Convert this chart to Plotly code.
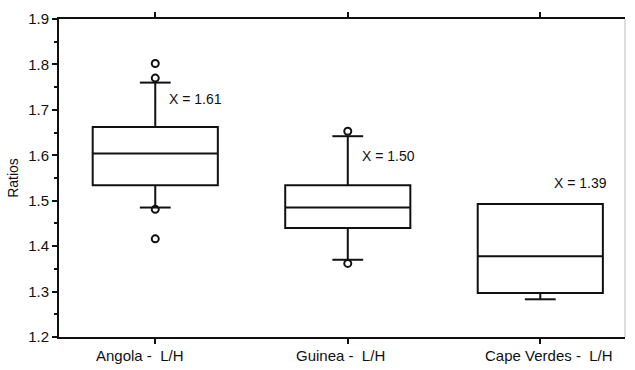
import plotly.graph_objects as go

categories = ["Angola -\u00a0\u00a0L/H", "Guinea -\u00a0\u00a0L/H", "Cape Verdes -\u00a0\u00a0L/H"]
q1 = [1.534, 1.440, 1.297]
median = [1.604, 1.485, 1.378]
q3 = [1.662, 1.534, 1.493]
lower_whisker = [1.485, 1.370, 1.283]
upper_whisker = [1.760, 1.642, 1.493]
outliers = [[1.802, 1.770, 1.481, 1.416], [1.653, 1.362], []]
mean_labels = ["X = 1.61", "X = 1.50", "X = 1.39"]
mean_label_y = [1.723, 1.599, 1.539]
label_shift = [-15, -7, 9]

pos = list(range(len(categories)))
cap_half = 0.08
black = "#111111"

fig = go.Figure()
fig.add_trace(go.Box(
    x=pos, q1=q1, median=median, q3=q3,
    lowerfence=lower_whisker, upperfence=upper_whisker,
    width=0.65, boxpoints=False,
    fillcolor="white", line=dict(color=black, width=2),
    whiskerwidth=0, showlegend=False, hoverinfo="skip",
))

cx, cy = [], []
for i in pos:
    for v in (lower_whisker[i], upper_whisker[i]):
        if i == 2 and v == q3[i]:
            continue
        cx += [i - cap_half, i + cap_half, None]
        cy += [v, v, None]
fig.add_trace(go.Scatter(x=cx, y=cy, mode="lines", line=dict(color=black, width=2),
                         showlegend=False, hoverinfo="skip"))

ox, oy = [], []
for i in pos:
    for v in outliers[i]:
        ox.append(i)
        oy.append(v)
fig.add_trace(go.Scatter(x=ox, y=oy, mode="markers",
                         marker=dict(symbol="circle-open", size=7, color=black, line=dict(width=2)),
                         showlegend=False, hoverinfo="skip"))

for i in pos:
    fig.add_annotation(x=i + 0.062, y=mean_label_y[i], text=mean_labels[i], showarrow=False,
                       xanchor="left", yanchor="middle", font=dict(size=14, color=black))
    fig.add_annotation(x=i, y=0, xref="x", yref="paper", text=categories[i], showarrow=False,
                       xanchor="center", yanchor="top", yshift=-8, xshift=label_shift[i],
                       font=dict(size=15, color=black))

fig.add_shape(type="line", xref="paper", yref="paper", x0=1, x1=1, y0=0, y1=1,
              line=dict(color="#bbbbbb", width=1))

fig.update_xaxes(range=[-0.5, 2.44], tickvals=pos, ticktext=["", "", ""],
                 showticklabels=False, ticks="outside", ticklen=5, tickwidth=2, tickcolor=black,
                 showline=True, linecolor=black, linewidth=2, mirror="allticks",
                 showgrid=False, zeroline=False)
fig.update_yaxes(range=[1.2, 1.9], dtick=0.1, tick0=1.2, tickformat=".1f",
                 ticks="outside", ticklen=5, tickwidth=2, tickcolor=black,
                 minor=dict(dtick=0.05, ticks="outside", ticklen=3, tickwidth=1.5, tickcolor=black),
                 showline=True, linecolor=black, linewidth=2, showgrid=False, zeroline=False,
                 title=dict(text="Ratios", font=dict(size=14, color=black), standoff=6),
                 tickfont=dict(size=15, color=black))

fig.update_layout(width=635, height=370, margin=dict(l=59, r=10, t=14, b=33),
                  paper_bgcolor="white", plot_bgcolor="white",
                  font=dict(family="Liberation Sans, Arial, sans-serif", color=black))

fig.write_html("out.html")
